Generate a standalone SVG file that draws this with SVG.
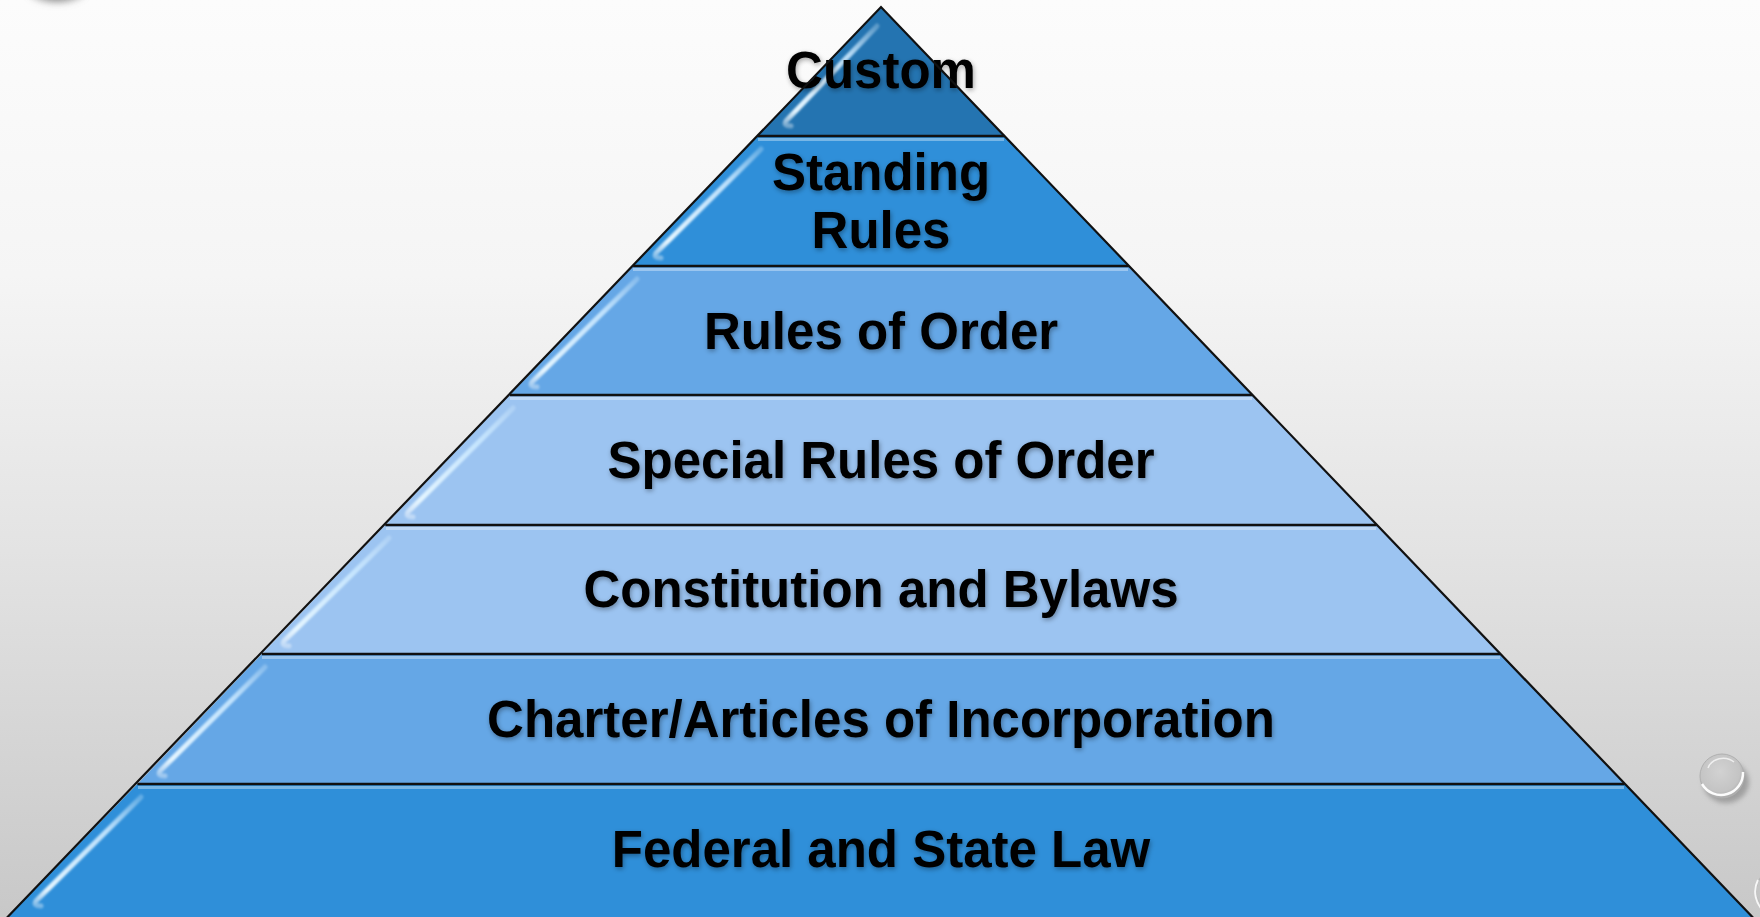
<svg xmlns="http://www.w3.org/2000/svg" width="1760" height="917" viewBox="0 0 1760 917">
  <defs>
    <linearGradient id="bg" x1="0" y1="0" x2="0" y2="1">
      <stop offset="0" stop-color="#fcfcfc"/>
      <stop offset="0.3" stop-color="#f5f5f5"/>
      <stop offset="0.6" stop-color="#e3e3e3"/>
      <stop offset="1" stop-color="#c8c8c8"/>
    </linearGradient>
    <linearGradient id="gloss" x1="0" y1="0" x2="0" y2="1">
      <stop offset="0" stop-color="#d8efff" stop-opacity="0.3"/>
      <stop offset="0.3" stop-color="#c9e8ff" stop-opacity="0.9"/>
      <stop offset="0.85" stop-color="#e4f5ff" stop-opacity="1"/>
      <stop offset="1" stop-color="#ffffff" stop-opacity="0.35"/>
    </linearGradient>
    <radialGradient id="blob" cx="0.5" cy="0.3" r="0.6">
      <stop offset="0" stop-color="#444" stop-opacity="0.95"/>
      <stop offset="0.6" stop-color="#666" stop-opacity="0.6"/>
      <stop offset="1" stop-color="#888" stop-opacity="0"/>
    </radialGradient>
    <radialGradient id="bead" cx="0.45" cy="0.4" r="0.6">
      <stop offset="0" stop-color="#d2d2d2"/>
      <stop offset="0.75" stop-color="#c4c4c4"/>
      <stop offset="1" stop-color="#ababab"/>
    </radialGradient>
    <filter id="soft" x="-20%" y="-20%" width="140%" height="140%">
      <feGaussianBlur stdDeviation="2.5"/>
    </filter>
    <filter id="glow" x="-20%" y="-20%" width="140%" height="140%">
      <feGaussianBlur stdDeviation="1.2"/>
    </filter>
    <filter id="tshadow" x="-10%" y="-30%" width="120%" height="160%">
      <feGaussianBlur in="SourceAlpha" stdDeviation="2.5"/>
      <feOffset dx="1" dy="2"/>
      <feComponentTransfer><feFuncA type="linear" slope="0.35"/></feComponentTransfer>
      <feMerge><feMergeNode/><feMergeNode in="SourceGraphic"/></feMerge>
    </filter>
  </defs>
  <style>
    .band { stroke: none; }
    .rim { fill: none; stroke: #ffffff; stroke-opacity: 0.35; stroke-width: 3; }
    .hl { fill: none; stroke: url(#gloss); stroke-width: 5; stroke-linecap: round; stroke-linejoin: round; filter: url(#glow); }
    .sep { stroke: #111; stroke-width: 2.5; fill: none; }
    .edge { stroke: #111; stroke-width: 2.2; fill: none; stroke-linejoin: miter; }
    .lbl { font-family: "Liberation Sans", Arial, sans-serif; font-weight: bold; font-size: 51px; fill: #000; text-anchor: middle; filter: url(#tshadow); }
  </style>

  <!-- slide background -->
  <rect x="0" y="0" width="1760" height="917" fill="url(#bg)"/>

  <!-- theme decorations -->
  <ellipse cx="57" cy="-6" rx="30" ry="16" fill="url(#blob)" filter="url(#soft)"/>
  <g id="bead-right">
    <ellipse cx="1726" cy="782" rx="23" ry="21" fill="#777" opacity="0.55" filter="url(#soft)"/>
    <circle cx="1722" cy="776" r="22" fill="url(#bead)" stroke="#b0b0b0" stroke-width="1"/>
    <path d="M1702 784 A22 22 0 0 0 1743 772" fill="none" stroke="#fff" stroke-width="2.5" stroke-opacity="0.95"/>
    <path d="M1708 768 A16 14 0 0 1 1734 762" fill="none" stroke="#fff" stroke-width="1.5" stroke-opacity="0.7"/>
  </g>
  <g id="bead-edge">
    <circle cx="1782" cy="892" r="26" fill="url(#bead)" stroke="#b0b0b0" stroke-width="1"/>
    <path d="M1758 880 A26 26 0 0 0 1765 912" fill="none" stroke="#fff" stroke-width="2" stroke-opacity="0.85"/>
  </g>

  <!-- pyramid tiers, top to bottom -->
  <g id="tier-custom">
    <polygon class="band" points="881,7 1004.5,136 757.5,136" fill="#2474b1"/>
    <path class="hl" d="M877 26 L786 121 Q783 126 791 126"/>
    <text class="lbl" x="881" y="88">Custom</text>
  </g>
  <g id="tier-standing">
    <polygon class="band" points="757.5,136 1004.5,136 1128.9,266 633.1,266" fill="#2f8fd9"/>
    <path class="rim" d="M758 139.5 L1004 139.5"/>
    <path class="hl" d="M761 149 L656 253 Q653 258 661 258"/>
    <text class="lbl" x="881" y="190">Standing</text>
    <text class="lbl" x="881" y="248">Rules</text>
  </g>
  <g id="tier-rules-of-order">
    <polygon class="band" points="633.1,266 1128.9,266 1252.3,395 509.7,395" fill="#65a7e6"/>
    <path class="rim" d="M633 269.5 L1128 269.5"/>
    <path class="hl" d="M637 279 L532 382 Q529 387 537 387"/>
    <text class="lbl" x="881" y="349">Rules of Order</text>
  </g>
  <g id="tier-special-rules">
    <polygon class="band" points="509.7,395 1252.3,395 1376.7,525 385.3,525" fill="#9cc4f1"/>
    <path class="rim" d="M510 398.5 L1252 398.5"/>
    <path class="hl" d="M513 408 L408 512 Q405 517 413 517"/>
    <text class="lbl" x="881" y="478">Special Rules of Order</text>
  </g>
  <g id="tier-constitution">
    <polygon class="band" points="385.3,525 1376.7,525 1500.2,654 261.8,654" fill="#9cc4f1"/>
    <path class="rim" d="M386 528.5 L1376 528.5"/>
    <path class="hl" d="M389 538 L284 641 Q281 646 289 646"/>
    <text class="lbl" x="881" y="607">Constitution and Bylaws</text>
  </g>
  <g id="tier-charter">
    <polygon class="band" points="261.8,654 1500.2,654 1624.6,784 137.4,784" fill="#65a7e6"/>
    <path class="rim" d="M262 657.5 L1500 657.5"/>
    <path class="hl" d="M265 667 L160 771 Q157 776 165 776"/>
    <text class="lbl" x="881" y="737">Charter/Articles of Incorporation</text>
  </g>
  <g id="tier-law">
    <polygon class="band" points="137.4,784 1624.6,784 1760,925 0,925" fill="#2f8fd9"/>
    <path class="rim" d="M138 787.5 L1624 787.5"/>
    <path class="hl" d="M141 797 L36 901 Q33 906 41 906"/>
    <text class="lbl" x="881" y="867">Federal and State Law</text>
  </g>

  <!-- tier dividers and outline -->
  <g id="connectors">
    <path class="sep" d="M757.5 136 H1004.5 M633.1 266 H1128.9 M509.7 395 H1252.3 M385.3 525 H1376.7 M261.8 654 H1500.2 M137.4 784 H1624.6"/>
    <path class="edge" d="M-2 927 L881 7 L1762 927"/>
  </g>
</svg>
